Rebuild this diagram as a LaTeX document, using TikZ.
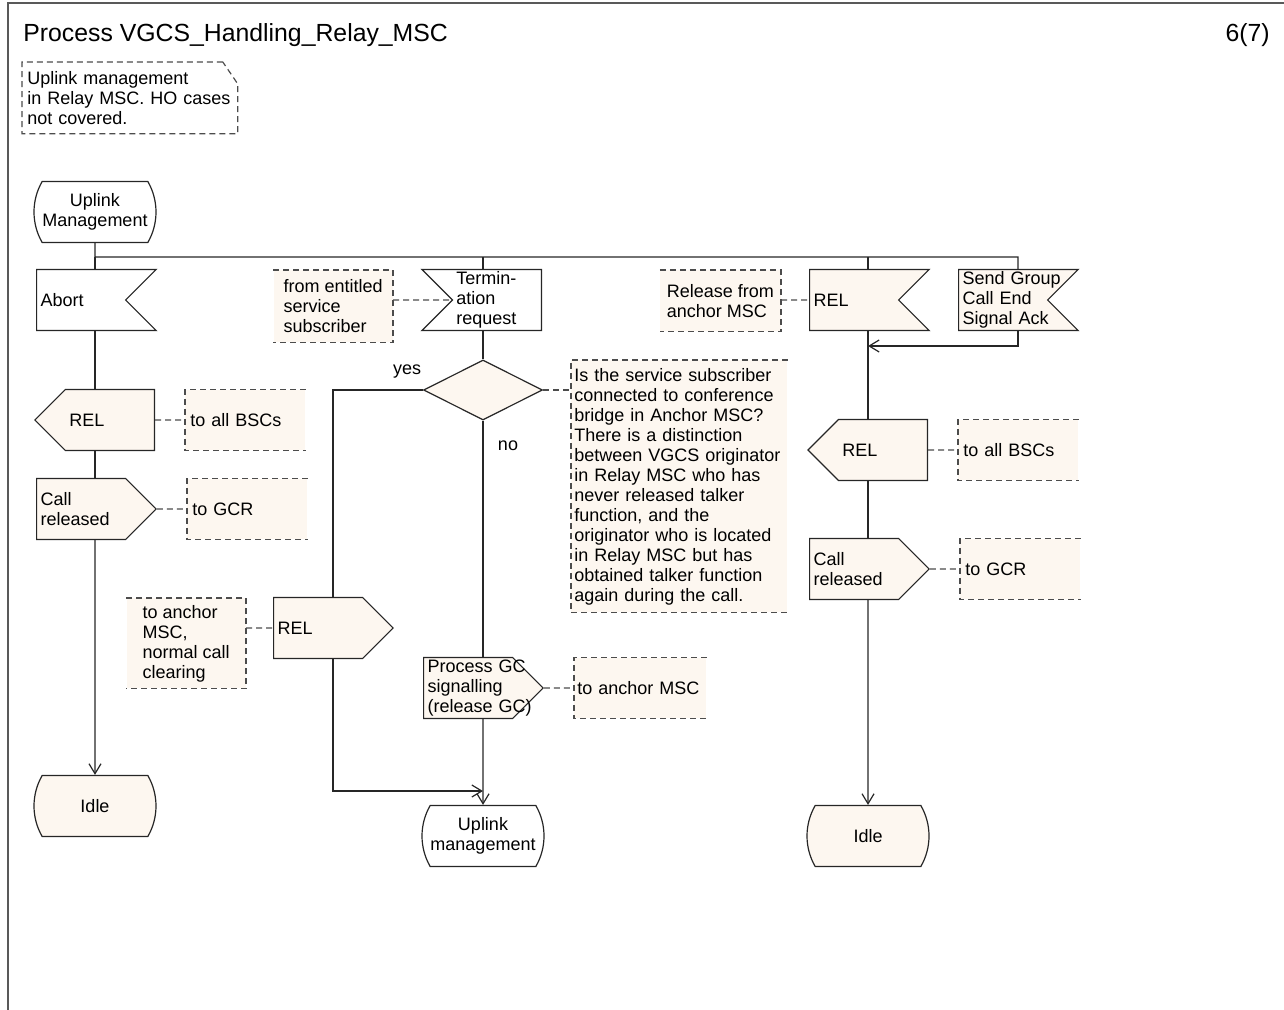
\documentclass[tikz,border=0pt]{standalone}
\usepackage{fontspec}
\setmainfont{Liberation Sans}
\usetikzlibrary{shapes.geometric,shapes.symbols,shapes.misc,arrows.meta,positioning,calc}
\definecolor{sdlfill}{HTML}{FDF7F0}

\begin{document}
\begin{tikzpicture}[
    x=0.5pt, y=-0.5pt,
    every node/.style={font=\fontsize{9}{10}\selectfont},
    line/.style={draw=black!85, line width=0.6pt},
    arrow/.style={line, -{Straight Barb[length=5pt,width=6pt]}},
    link/.style={draw=black!70, line width=0.6pt, dash pattern=on 3pt off 2pt},
    sdlstate/.style={rounded rectangle, rounded rectangle arc length=60, draw=black!85, line width=0.6pt, minimum width=59.5pt, minimum height=30.5pt, inner sep=1pt, align=center},
    sig/.style={signal, signal pointer angle=90, draw=black!85, line width=0.6pt, minimum height=30.5pt, inner xsep=2pt, inner ysep=0pt, text width=40.5pt, align=left},
    inbox/.style={sig, signal to=nowhere, signal from=east},
    outR/.style={sig, fill=sdlfill, signal to=east},
    outL/.style={sig, fill=sdlfill, signal to=west},
    decide/.style={diamond, draw=black!85, fill=sdlfill, line width=0.6pt, minimum width=59.5pt, minimum height=30pt, inner sep=0pt},
    cmtL/.style={fill=sdlfill, inner xsep=2.5pt, inner ysep=0pt, minimum height=30pt, text width=55pt, align=left},
    cmtR/.style={fill=sdlfill, inner ysep=0pt, minimum width=59.5pt, minimum height=30.5pt, align=left},
]
\useasboundingbox (0,0) rectangle (1284,1010);

% frame and heading
\draw[draw=black!65, line width=1pt] (1284,3) -- (8,3) -- (8,1010);
\node (title) [anchor=base west, inner sep=0pt, font=\fontsize{12.4}{14}\selectfont] at (23,42) {Process VGCS\_Handling\_Relay\_MSC};
\node (page) [anchor=base east, inner sep=0pt, font=\fontsize{12.4}{14}\selectfont] at (1270,42) {6(7)};
\node (scopenote) [anchor=north west, inner xsep=2.5pt, inner ysep=0pt, minimum height=35.5pt, text width=102.5pt, align=left] at (22,62) {Uplink management\\in Relay MSC. HO cases\\not covered.};
\draw[link] ($(scopenote.north east)+(-15,0)$) -- (scopenote.north west) -- (scopenote.south west) -- (scopenote.south east) -- ($(scopenote.north east)+(0,22)$) -- cycle;

% start and signal inputs
\node (start) [sdlstate] at (95,212) {Uplink\\Management};
\coordinate (bus) at (95,257);
\coordinate (busM) at (483,257);
\coordinate (busR) at (868,257);
\coordinate (busS) at (1018,257);
\node (abort) [inbox, fill=white, anchor=west] at (36,300) {Abort};
\node (term) [sig, signal to=nowhere, signal from=west, fill=white, anchor=east] at (542,300) {Termin-\\ation\\request};
\node (relin) [inbox, fill=sdlfill, anchor=west] at (809,300) {REL};
\node (sendack) [inbox, fill=sdlfill, anchor=west] at (958,300) {\mbox{Send Group}\\Call End\\\mbox{Signal Ack}};
\node (fromsub) [cmtR, anchor=north east, minimum height=36pt] at (393,270) {from entitled\\service\\subscriber};
\node (fromanchor) [cmtR, anchor=east] at (781,301) {Release from\\anchor MSC};

% left branch
\node (relL) [outL, anchor=east] at (155,420) {REL};
\node (callL) [outR, anchor=west] at (36,509) {Call\\released};
\node (bscL) [cmtL, anchor=west, right=15pt of relL] {to all BSCs};
\node (gcrL) [cmtL, anchor=west, right=15pt of callL] {to GCR};
\node (idleL) [sdlstate, fill=sdlfill] at (95,806) {Idle};

% middle branch
\node (dec) [decide] at (483,390) {};
\coordinate (yesturn) at (333,390);
\node (yes) at (407,372) {yes};
\node (no) at (508,446) {no};
\node (question) [cmtL, anchor=north west, inner xsep=1.5pt, minimum height=126pt, text width=105pt] at (571,360) {Is the service subscriber\\connected to conference\\bridge in Anchor MSC?\\There is a distinction\\between VGCS originator\\in Relay MSC who has\\never released talker\\function, and the\\originator who is located\\in Relay MSC but has\\obtained talker function\\again during the call.};
\node (relmid) [outR, anchor=west] at (273,628) {REL};
\node (toanchor) [cmtR, anchor=north east, minimum height=45pt] at (246,598) {to anchor\\MSC,\\normal call\\clearing};
\node (procgc) [outR, anchor=west] at (423,688) {\mbox{Process GC}\\signalling\\\mbox{(release GC)}};
\node (gcanchor) [cmtL, anchor=west, inner xsep=1.5pt, text width=63pt, right=15pt of procgc] {to anchor MSC};
\coordinate (join) at (483,791);
\node (uplink) [sdlstate] at (483,836) {Uplink\\management};

% right branch
\coordinate (merge) at (868,346);
\node (relR) [outL, anchor=east] at (928,450) {REL};
\node (callR) [outR, anchor=west] at (809,569) {Call\\released};
\node (bscR) [cmtL, anchor=west, right=15pt of relR] {to all BSCs};
\node (gcrR) [cmtL, anchor=west, right=15pt of callR] {to GCR};
\node (idleR) [sdlstate, fill=sdlfill] at (868,836) {Idle};

% comment brackets
\foreach \c in {bscL,gcrL,question,gcanchor,bscR,gcrR}
    \draw[link] (\c.north east) -| (\c.south west) -- (\c.south east);
\foreach \c in {fromsub,fromanchor,toanchor}
    \draw[link] (\c.north west) -| (\c.south east) -- (\c.south west);

% flow lines
\draw[line] (start) -- (bus) -- (busS) -- (busS |- sendack.north);
\draw[line] (bus) -- (bus |- abort.north);
\draw[line] (busM) -- (busM |- term.north);
\draw[line] (busR) -- (busR |- relin.north);
\draw[line] (bus |- abort.south) -- (bus |- relL.north);
\draw[line] (bus |- relL.south) -- (bus |- callL.north);
\draw[arrow] (bus |- callL.south) -- (idleL);
\draw[line] (busM |- term.south) -- (dec);
\draw[line] (dec.west) -- (yesturn) -- (yesturn |- relmid.north);
\draw[arrow] (yesturn |- relmid.south) |- (join);
\draw[line] (dec) -- (busM |- procgc.north);
\draw[arrow] (busM |- procgc.south) -- (uplink);
\draw[arrow] (busS |- sendack.south) |- (merge);
\draw[line] (busR |- relin.south) -- (busR |- relR.north);
\draw[line] (busR |- relR.south) -- (busR |- callR.north);
\draw[arrow] (busR |- callR.south) -- (idleR);

% dashed links
\draw[link] (fromsub.east |- term) -- (term);
\draw[link] (fromanchor.east |- relin) -- (relin);
\draw[link] (dec.east) -- (dec.east -| question.west);
\draw[link] (relL) -- (bscL);
\draw[link] (callL) -- (gcrL);
\draw[link] (toanchor.east |- relmid) -- (relmid);
\draw[link] (procgc) -- (gcanchor);
\draw[link] (relR) -- (bscR);
\draw[link] (callR) -- (gcrR);
\end{tikzpicture}
\end{document}
